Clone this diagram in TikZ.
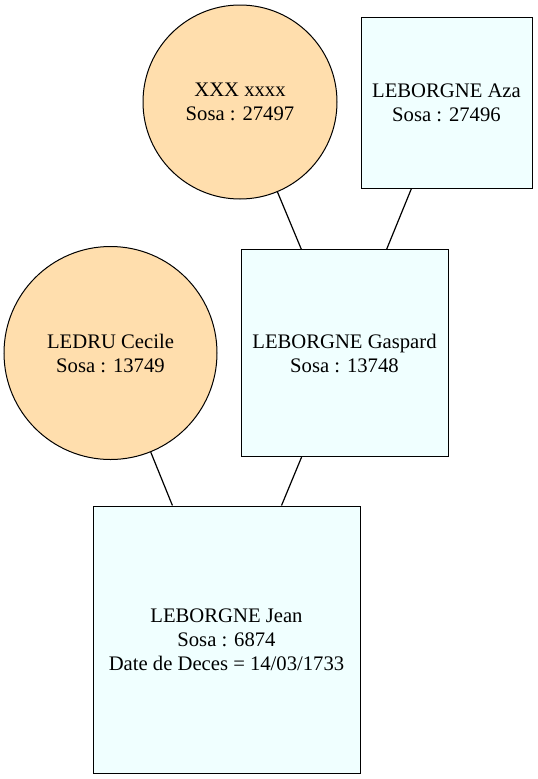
\documentclass[tikz,border=0pt]{standalone}
\usepackage{fontspec}
\setmainfont{Liberation Serif}
\usepackage{tikz}
\definecolor{femalefill}{HTML}{FFDEAD}
\definecolor{malefill}{HTML}{F0FFFF}

\begin{document}
\begin{tikzpicture}[x=0.75pt,y=-0.75pt,font=\fontsize{15.5}{18}\selectfont,line width=0.75pt]
  \tikzstyle{man}=[draw,fill=malefill,rectangle,align=center,inner sep=0pt]
  \tikzstyle{woman}=[draw,fill=femalefill,circle,align=center,inner sep=0pt]
  \tikzstyle{link}=[line width=0.9pt]

  \useasboundingbox (0,0) rectangle (538,779);

  % parents of Gaspard
  \node [woman,minimum size=145.5pt] (xxx) at (240,102) {XXX xxxx\\Sosa : 27497};
  \node [man,minimum size=128.25pt] (aza) at (446.5,102.5) {LEBORGNE Aza\\Sosa : 27496};

  % parents of Jean
  \node [woman,minimum size=159.75pt] (ledru) at (110.5,353) {LEDRU Cecile\\Sosa : 13749};
  \node [man,minimum size=155.25pt] (gaspard) at (344.5,353) {LEBORGNE Gaspard\\Sosa : 13748};

  % root
  \node [man,minimum size=200.25pt] (jean) at (226.5,639.5) {LEBORGNE Jean\\Sosa : 6874\\Date de Deces = 14/03/1733};

  % links
  \draw [link] (xxx) -- (gaspard);
  \draw [link] (aza) -- (gaspard);
  \draw [link] (ledru) -- (jean);
  \draw [link] (gaspard) -- (jean);

\end{tikzpicture}
\end{document}
